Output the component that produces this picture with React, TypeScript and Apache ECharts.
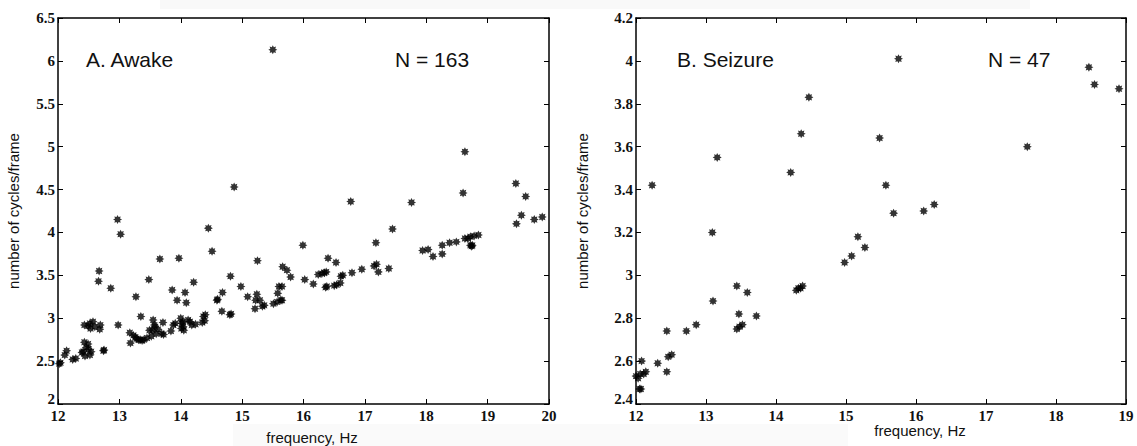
import React, { useEffect, useRef } from "react";
import * as echarts from "echarts";

// ---- Data (frequency Hz, number of cycles/frame) ----
const awakeFreq: number[] = [
  12.02, 12.04, 12.11, 12.14, 12.24, 12.29, 12.39, 12.43, 12.44, 12.46, 12.49, 12.41, 12.52, 12.54, 12.50,
  12.43, 12.49, 12.52, 12.57, 12.60, 12.53, 12.66, 12.67, 12.69, 12.68, 12.74, 12.75, 12.86, 12.97, 13.02, 12.98,
  13.17, 13.18, 13.23, 13.26, 13.28, 13.31, 13.34, 13.37, 13.40, 13.45, 13.27, 13.35, 13.48, 13.49, 13.52,
  13.54, 13.55, 13.57, 13.58, 13.60, 13.63, 13.66, 13.69, 13.71, 13.72, 13.84, 13.86, 13.88, 13.91, 13.94, 13.97,
  14.00, 14.01, 14.02, 14.04, 14.05, 14.03, 14.07, 14.09, 14.12, 14.15, 14.18, 14.21, 14.24, 14.35, 14.37, 14.40,
  14.39, 14.45, 14.51, 14.59, 14.60, 14.68, 14.67, 14.81, 14.80, 14.82, 14.87, 14.98,
  15.09, 15.21, 15.22, 15.24, 15.25, 15.29, 15.33, 15.36, 15.50, 15.51, 15.58, 15.60, 15.57, 15.63, 15.65, 15.65,
  15.66, 15.73, 15.79, 15.99,
  16.02, 16.16, 16.24, 16.30, 16.34, 16.37, 16.40, 16.36, 16.38, 16.50, 16.54, 16.53, 16.60, 16.61, 16.64, 16.77,
  16.79, 16.95,
  17.15, 17.19, 17.18, 17.22, 17.39, 17.45, 17.76, 17.94,
  18.03, 18.11, 18.26, 18.26, 18.38, 18.49, 18.60, 18.63, 18.63, 18.68, 18.72, 18.78, 18.85, 18.72, 18.75, 18.74,
  19.47, 19.46, 19.55, 19.62, 19.76, 19.89,
];
const awakeCycles: number[] = [
  2.47, 2.48, 2.57, 2.62, 2.52, 2.53, 2.60, 2.72, 2.56, 2.66, 2.70, 2.61, 2.57, 2.61, 2.64,
  2.92, 2.91, 2.94, 2.96, 2.90, 2.88, 3.43, 3.55, 2.92, 2.87, 2.62, 2.63, 3.35, 4.15, 3.98, 2.92,
  2.83, 2.71, 2.80, 2.78, 2.76, 2.75, 2.75, 2.74, 2.75, 2.77, 3.25, 3.02, 3.45, 2.86, 2.79,
  2.86, 2.98, 2.92, 2.90, 2.82, 2.87, 3.69, 2.82, 2.95, 2.81, 2.85, 3.33, 2.92, 2.94, 3.21, 3.70,
  3.00, 2.88, 2.94, 2.90, 2.86, 2.96, 3.30, 3.18, 2.98, 2.96, 2.92, 3.42, 2.93, 2.95, 3.02, 3.04,
  2.97, 4.05, 3.78, 3.21, 3.22, 3.30, 3.08, 3.49, 3.04, 3.05, 4.53, 3.37,
  3.25, 3.11, 3.21, 3.28, 3.67, 3.21, 3.14, 3.15, 6.13, 3.17, 3.29, 3.37, 3.19, 3.21, 3.37, 3.21,
  3.60, 3.56, 3.48, 3.85,
  3.45, 3.40, 3.51, 3.52, 3.53, 3.54, 3.70, 3.36, 3.37, 3.38, 3.39, 3.65, 3.41, 3.49, 3.50, 4.36,
  3.53, 3.57,
  3.61, 3.63, 3.88, 3.54, 3.58, 4.04, 4.35, 3.79,
  3.80, 3.72, 3.85, 3.75, 3.88, 3.89, 4.46, 4.94, 3.93, 3.93, 3.95, 3.96, 3.97, 3.85, 3.85, 3.84,
  4.10, 4.57, 4.20, 4.42, 4.15, 4.18,
];

const seizureFreq: number[] = [
  12.00, 12.03, 12.05, 12.07, 12.08, 12.06, 12.11, 12.14, 12.23, 12.31, 12.44, 12.44, 12.46, 12.51, 12.72, 12.86,
  13.09, 13.10, 13.16, 13.44, 13.47, 13.44, 13.48, 13.52, 13.59, 13.72,
  14.21, 14.29, 14.32, 14.35, 14.38, 14.36, 14.47,
  14.98, 15.08, 15.17, 15.27, 15.48, 15.57, 15.68, 15.75, 16.11, 16.26,
  17.59, 18.47, 18.55, 18.90,
];
const seizureCycles: number[] = [
  2.53, 2.52, 2.47, 2.47, 2.60, 2.54, 2.54, 2.55, 3.42, 2.59, 2.74, 2.55, 2.62, 2.63, 2.74, 2.77,
  3.20, 2.88, 3.55, 2.95, 2.82, 2.75, 2.76, 2.77, 2.92, 2.81,
  3.48, 2.93, 2.94, 2.94, 2.95, 3.66, 3.83,
  3.06, 3.09, 3.18, 3.13, 3.64, 3.42, 3.29, 4.01, 3.30, 3.33,
  3.60, 3.97, 3.89, 3.87,
];

const tickFont = "Liberation Serif";

function starPath(): string {
  const parts: string[] = [];
  for (let i = 0; i < 16; i++) {
    const a = (i * Math.PI) / 8 - Math.PI / 2;
    const r = i % 2 === 0 ? 1 : 0.6;
    const x = (r * Math.cos(a)).toFixed(3);
    const y = (r * Math.sin(a)).toFixed(3);
    parts.push((i === 0 ? "M" : "L") + x + " " + y);
  }
  return "path://" + parts.join(" ") + " Z";
}

export default function App() {
  const ref = useRef<HTMLDivElement>(null);
  useEffect(() => {
    if (!ref.current) return;
    const chart = echarts.init(ref.current, null, { renderer: "svg" });
    const star = starPath();
    const lineStyle = { color: "#000", width: 1.5 };
    const labelStyle = { color: "#111", fontFamily: tickFont, fontSize: 15, fontWeight: "bold" };

    const makeX = (gridIndex: number, min: number, max: number, position: string, showLabel: boolean) => ({
      type: "value",
      gridIndex,
      min,
      max,
      interval: 1,
      position,
      axisLine: { show: true, onZero: false, lineStyle },
      axisTick: { show: true, inside: true, length: 5, lineStyle: { color: "#000", width: 1 } },
      axisLabel: { show: showLabel, margin: 4, ...labelStyle },
      splitLine: { show: false },
    });
    const makeY = (gridIndex: number, min: number, max: number, interval: number, position: string, showLabel: boolean, name?: string, nameGap?: number) => ({
      type: "value",
      gridIndex,
      min,
      max,
      interval,
      position,
      name: name || "",
      nameLocation: "middle",
      nameGap: nameGap || 0,
      nameTextStyle: { fontFamily: "Liberation Sans", fontSize: 15, color: "#111" },
      axisLine: { show: true, onZero: false, lineStyle },
      axisTick: { show: true, inside: true, length: 5, lineStyle: { color: "#000", width: 1 } },
      axisLabel: {
        show: showLabel,
        margin: 3,
        ...labelStyle,
        formatter: (v: number) => (Math.abs(v - min) < 1e-9 ? "{lo|" + v + "}" : String(Number(v.toFixed(2)))),
        rich: { lo: { ...labelStyle, padding: [0, 0, 10, 0] } },
      },
      splitLine: { show: false },
    });

    chart.setOption({
      animation: false,
      backgroundColor: "#fff",
      grid: [
        { left: 58, top: 18, width: 491, height: 386 },
        { left: 636, top: 18, width: 490, height: 386 },
      ],
      xAxis: [
        makeX(0, 12, 20, "bottom", true),
        makeX(0, 12, 20, "top", false),
        makeX(1, 12, 19, "bottom", true),
        makeX(1, 12, 19, "top", false),
      ],
      yAxis: [
        makeY(0, 2, 6.5, 0.5, "left", true, "number of cycles/frame", 37),
        makeY(0, 2, 6.5, 0.5, "right", false),
        makeY(1, 2.4, 4.2, 0.2, "left", true, "number of cycles/frame", 46),
        makeY(1, 2.4, 4.2, 0.2, "right", false),
      ],
      series: [
        {
          type: "scatter",
          xAxisIndex: 0,
          yAxisIndex: 0,
          symbol: star,
          symbolSize: 9,
          itemStyle: { color: "#000" },
          data: awakeFreq.map((f, i) => [f, awakeCycles[i]]),
        },
        {
          type: "scatter",
          xAxisIndex: 2,
          yAxisIndex: 2,
          symbol: star,
          symbolSize: 9,
          itemStyle: { color: "#000" },
          data: seizureFreq.map((f, i) => [f, seizureCycles[i]]),
        },
      ],
      graphic: [
        { type: "rect", z: -10, shape: { x: 160, y: 0, width: 870, height: 9 }, style: { fill: "#f9f9f9" } },
        { type: "rect", z: -10, shape: { x: 233, y: 424, width: 615, height: 22 }, style: { fill: "#fafafa" } },
        { type: "text", x: 312, y: 437, style: { text: "frequency, Hz", font: "15px 'Liberation Sans'", fill: "#111", align: "center", verticalAlign: "middle" } },
        { type: "text", x: 920, y: 430, style: { text: "frequency, Hz", font: "15px 'Liberation Sans'", fill: "#111", align: "center", verticalAlign: "middle" } },
        { type: "text", x: 86, y: 59, style: { text: "A. Awake", font: "21px 'Liberation Sans'", fill: "#111", align: "left", verticalAlign: "middle" } },
        { type: "text", x: 395, y: 59, style: { text: "N = 163", font: "21px 'Liberation Sans'", fill: "#111", align: "left", verticalAlign: "middle" } },
        { type: "text", x: 677, y: 59, style: { text: "B. Seizure", font: "21px 'Liberation Sans'", fill: "#111", align: "left", verticalAlign: "middle" } },
        { type: "text", x: 988, y: 59, style: { text: "N = 47", font: "21px 'Liberation Sans'", fill: "#111", align: "left", verticalAlign: "middle" } },
      ],
    });
    return () => chart.dispose();
  }, []);
  return (
    <div
      ref={ref}
      style={{ position: "absolute", left: 0, top: 0, width: 1137, height: 446, background: "#fff" }}
    />
  );
}
